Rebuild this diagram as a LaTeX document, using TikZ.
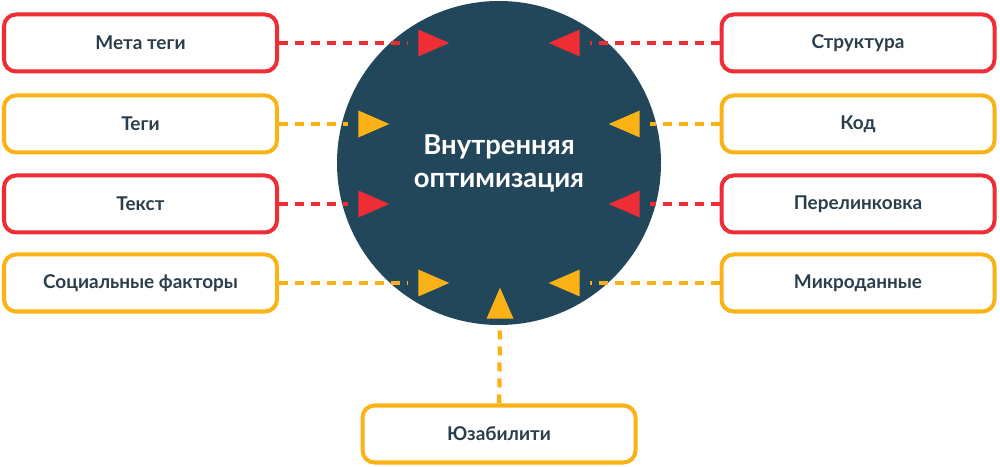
\documentclass[tikz,border=0pt]{standalone}
\usepackage{fontspec}
\setmainfont{Lato}
\usetikzlibrary{shapes.geometric}
\definecolor{redl}{RGB}{239,45,52}
\definecolor{yell}{RGB}{251,178,22}
\definecolor{navy}{RGB}{35,71,90}
\definecolor{ink}{RGB}{42,62,76}
\begin{document}
\begin{tikzpicture}
\tikzstyle{box}=[rectangle,rounded corners=0.3cm,draw,line width=2.85pt,fill=white,minimum width=6.825cm,minimum height=1.425cm,text=ink,font=\fontsize{13.5}{15}\selectfont\bfseries]
\tikzstyle{tri}=[isosceles triangle,isosceles triangle stretches,inner sep=0pt,minimum width=0.675cm,minimum height=0.775cm,anchor=apex]
\tikzstyle{link}=[line width=3pt,dash pattern=on 0.225cm off 0.175cm,shorten >=0.25cm]
\useasboundingbox (0,0) rectangle (25,-11.675);

\node (0) at (12.475,-4.075) [circle,fill=navy,inner sep=0pt,minimum size=8.1cm,text=white,align=center,font=\fontsize{19.5}{23.5}\selectfont\bfseries]{Внутренняя\\оптимизация};

\node (1) at (3.5125,-1.075) [box,draw=redl]{Мета теги};
\node (2) at (3.5125,-3.1) [box,draw=yell]{Теги};
\node (3) at (3.5125,-5.1) [box,draw=redl]{Текст};
\node (4) at (3.5125,-7.075) [box,draw=yell]{Социальные факторы};

\node (5) at (21.45,-1.075) [box,draw=redl]{Структура};
\node (6) at (21.45,-3.1) [box,draw=yell]{Код};
\node (7) at (21.45,-5.1) [box,draw=redl]{Перелинковка};
\node (8) at (21.45,-7.075) [box,draw=yell]{Микроданные};

\node (9) at (12.475,-10.85) [box,draw=yell]{Юзабилити};

\node (11) at (11.25,-1.075) [tri,fill=redl]{};
\node (12) at (9.75,-3.1) [tri,fill=yell]{};
\node (13) at (9.75,-5.1) [tri,fill=redl]{};
\node (14) at (11.25,-7.075) [tri,fill=yell]{};
\node (15) at (13.7,-1.075) [tri,shape border rotate=180,fill=redl]{};
\node (16) at (15.2,-3.1) [tri,shape border rotate=180,fill=yell]{};
\node (17) at (15.2,-5.1) [tri,shape border rotate=180,fill=redl]{};
\node (18) at (13.7,-7.075) [tri,shape border rotate=180,fill=yell]{};
\node (19) at (12.5,-7.175) [tri,shape border rotate=90,fill=yell]{};

\draw[link,redl] (1) -- (11); \draw[link,yell] (2) -- (12);
\draw[link,redl] (3) -- (13); \draw[link,yell] (4) -- (14);
\draw[link,redl] (5) -- (15); \draw[link,yell] (6) -- (16);
\draw[link,redl] (7) -- (17); \draw[link,yell] (8) -- (18);
\draw[link,yell] (9) -- (19);
\end{tikzpicture}
\end{document}
